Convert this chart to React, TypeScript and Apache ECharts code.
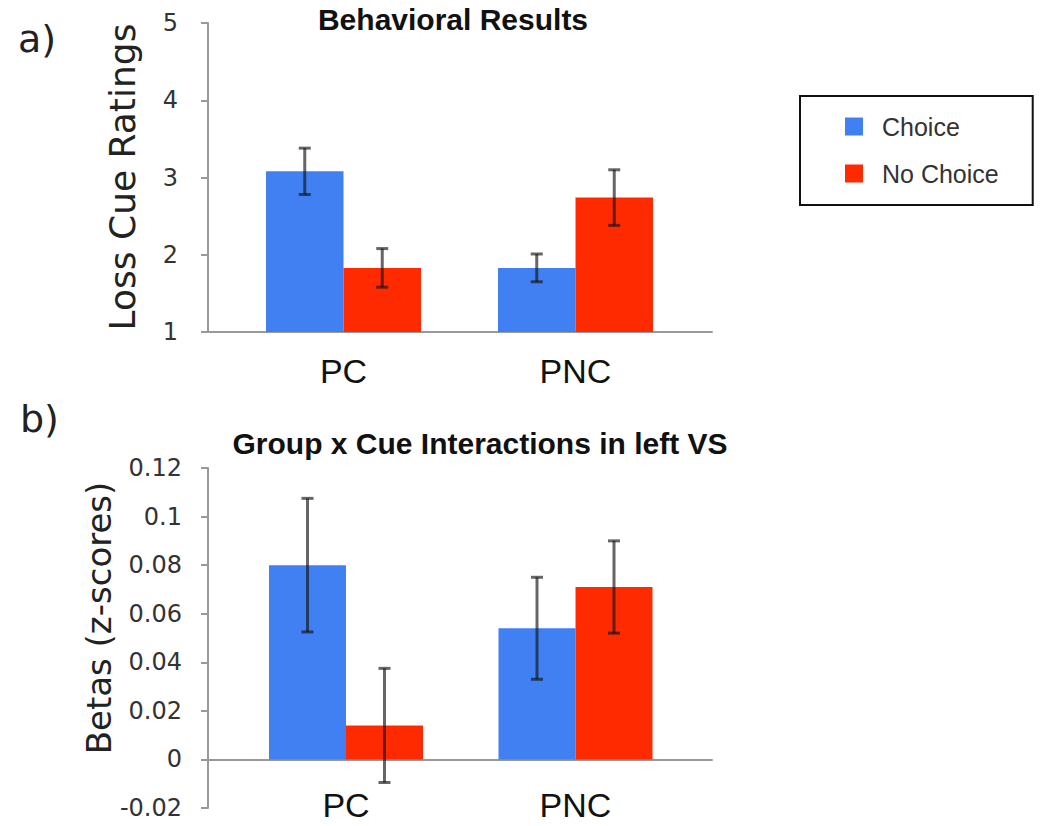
import React, { useEffect, useRef } from "react";
import * as echarts from "echarts";

const categories = ["PC", "PNC"];
const seriesNames = ["Choice", "No Choice"];

// Panel a) Behavioral Results
const ratingChoice = [3.08, 1.83];
const ratingNoChoice = [1.83, 2.74];
const ratingChoiceErr = [0.3, 0.18];
const ratingNoChoiceErr = [0.25, 0.36];
const ratingTicks = { min: 1, max: 5, interval: 1 };

// Panel b) Group x Cue Interactions in left VS
const betaChoice = [0.08, 0.054];
const betaNoChoice = [0.014, 0.071];
const betaChoiceErr = [0.0275, 0.021];
const betaNoChoiceErr = [0.0235, 0.019];
const betaTicks = { min: -0.02, max: 0.12, interval: 0.02 };

const BLUE = "#4180F2";
const RED = "#FF2A00";
const AXIS = "#999999";
const TXT = "#333333";
const GAP_TOP = 0.332;
const GAP_BOT = 0.329;

function errData(vals: number[], errs: number[]) {
  return vals.map((v, i) => [i, v - errs[i], v + errs[i]]);
}

function errSeries(name: string, vals: number[], errs: number[], side: number, gap: number, axisIdx: number) {
  return {
    type: "custom",
    name,
    xAxisIndex: axisIdx,
    yAxisIndex: axisIdx,
    z: 5,
    data: errData(vals, errs),
    encode: { x: 0, y: [1, 2] },
    renderItem: (params: any, api: any) => {
      const cat = api.value(0);
      const lo = api.value(1);
      const hi = api.value(2);
      const band = api.size([1, 0])[0];
      const bw = (band * (1 - gap)) / 2;
      const top = api.coord([cat, hi]);
      const bot = api.coord([cat, lo]);
      const x = top[0] + (side * bw) / 2;
      const cap = 6;
      const style = { stroke: "rgba(20,20,20,0.65)", lineWidth: 3 };
      return {
        type: "group",
        children: [
          { type: "line", shape: { x1: x, y1: top[1], x2: x, y2: bot[1] }, style },
          { type: "line", shape: { x1: x - cap, y1: top[1], x2: x + cap, y2: top[1] }, style },
          { type: "line", shape: { x1: x - cap, y1: bot[1], x2: x + cap, y2: bot[1] }, style },
        ],
      };
    },
  };
}

export default function App() {
  const ref = useRef<HTMLDivElement>(null);
  useEffect(() => {
    document.body.style.margin = "0";
    if (!ref.current) return;
    const chart = echarts.init(ref.current, undefined, { renderer: "svg" });

    const frameX = () => ({
      type: "value",
      min: 0,
      max: 1,
      interval: 1,
      axisLine: { show: true, onZero: true, lineStyle: { color: AXIS, width: 2 } },
      axisTick: { show: false },
      axisLabel: { show: false },
      splitLine: { show: false },
    });

    const option: any = {
      animation: false,
      backgroundColor: "#ffffff",
      title: [
        {
          text: "Behavioral Results",
          left: 453,
          top: 4,
          textAlign: "center",
          padding: 0,
          textStyle: { fontFamily: "Liberation Sans", fontWeight: "bold", fontSize: 30, color: "#111" },
        },
        {
          text: "Group x Cue Interactions in left VS",
          left: 480,
          top: 428,
          textAlign: "center",
          padding: 0,
          textStyle: { fontFamily: "Liberation Sans", fontWeight: "bold", fontSize: 30, color: "#111" },
        },
      ],
      legend: {
        data: seriesNames,
        orient: "vertical",
        left: 800,
        top: 96,
        padding: [18, 34, 19, 45],
        itemGap: 22,
        itemWidth: 18,
        itemHeight: 18,
        icon: "rect",
        borderColor: "#111",
        borderWidth: 2,
        borderRadius: 0,
        textStyle: { fontFamily: "Liberation Sans", fontSize: 25, color: TXT, padding: [0, 0, 0, 14] },
      },
      grid: [
        { left: 208, width: 504, top: 23, height: 309, outerBoundsMode: "none", containLabel: false },
        { left: 227.5, width: 464, top: 23, height: 309, outerBoundsMode: "none", containLabel: false },
        { left: 208, width: 504, top: 468, height: 340, outerBoundsMode: "none", containLabel: false },
        { left: 231.25, width: 459, top: 468, height: 340, outerBoundsMode: "none", containLabel: false },
      ],
      xAxis: [
        { gridIndex: 0, ...frameX() },
        {
          gridIndex: 1,
          type: "category",
          data: categories,
          axisLine: { show: false },
          axisTick: { show: false },
          axisLabel: { fontFamily: "Liberation Sans", fontSize: 34, color: "#111", margin: 22 },
        },
        { gridIndex: 2, ...frameX() },
        {
          gridIndex: 3,
          type: "category",
          data: categories,
          axisLine: { show: true, onZero: true, lineStyle: { color: AXIS, width: 2 } },
          axisTick: { show: false },
          axisLabel: { fontFamily: "Liberation Sans", fontSize: 34, color: "#111", margin: -20 },
        },
      ],
      yAxis: [
        {
          gridIndex: 0,
          type: "value",
          ...ratingTicks,
          axisLine: { show: true, lineStyle: { color: AXIS, width: 2 } },
          axisTick: { show: true, length: 7, lineStyle: { color: AXIS, width: 2 } },
          axisLabel: { fontFamily: "DejaVu Sans", fontSize: 24, color: TXT, margin: 30 },
          splitLine: { show: false },
        },
        { gridIndex: 1, type: "value", ...ratingTicks, show: false, splitLine: { show: false } },
        {
          gridIndex: 2,
          type: "value",
          ...betaTicks,
          axisLine: { show: true, lineStyle: { color: AXIS, width: 2 } },
          axisTick: { show: true, length: 7, lineStyle: { color: AXIS, width: 2 } },
          axisLabel: { fontFamily: "DejaVu Sans", fontSize: 24, color: TXT, margin: 26 },
          splitLine: { show: false },
        },
        { gridIndex: 3, type: "value", ...betaTicks, show: false, splitLine: { show: false } },
      ],
      graphic: [
        {
          type: "text",
          x: 122,
          y: 177,
          rotation: Math.PI / 2,
          style: {
            text: "Loss Cue Ratings",
            font: "36px 'DejaVu Sans'",
            fill: "#222",
            align: "center",
            verticalAlign: "middle",
          },
        },
        {
          type: "text",
          x: 99,
          y: 618,
          rotation: Math.PI / 2,
          style: {
            text: "Betas (z-scores)",
            font: "34px 'DejaVu Sans'",
            fill: "#222",
            align: "center",
            verticalAlign: "middle",
          },
        },
        {
          type: "text",
          x: 18,
          y: 20,
          style: { text: "a)", font: "38px 'DejaVu Sans'", fill: "#222" },
        },
        {
          type: "text",
          x: 20,
          y: 400,
          style: { text: "b)", font: "38px 'DejaVu Sans'", fill: "#222" },
        },
      ],
      series: [
        {
          type: "bar",
          name: "Choice",
          xAxisIndex: 1,
          yAxisIndex: 1,
          data: ratingChoice,
          barGap: "0%",
          barCategoryGap: GAP_TOP * 100 + "%",
          itemStyle: { color: BLUE },
        },
        {
          type: "bar",
          name: "No Choice",
          xAxisIndex: 1,
          yAxisIndex: 1,
          data: ratingNoChoice,
          barGap: "0%",
          barCategoryGap: GAP_TOP * 100 + "%",
          itemStyle: { color: RED },
        },
        errSeries("Choice SE a", ratingChoice, ratingChoiceErr, -1, GAP_TOP, 1),
        errSeries("No Choice SE a", ratingNoChoice, ratingNoChoiceErr, 1, GAP_TOP, 1),
        {
          type: "bar",
          name: "Choice",
          xAxisIndex: 3,
          yAxisIndex: 3,
          data: betaChoice,
          barGap: "0%",
          barCategoryGap: GAP_BOT * 100 + "%",
          itemStyle: { color: BLUE },
        },
        {
          type: "bar",
          name: "No Choice",
          xAxisIndex: 3,
          yAxisIndex: 3,
          data: betaNoChoice,
          barGap: "0%",
          barCategoryGap: GAP_BOT * 100 + "%",
          itemStyle: { color: RED },
        },
        errSeries("Choice SE b", betaChoice, betaChoiceErr, -1, GAP_BOT, 3),
        errSeries("No Choice SE b", betaNoChoice, betaNoChoiceErr, 1, GAP_BOT, 3),
      ],
    };
    chart.setOption(option);
    return () => chart.dispose();
  }, []);
  return <div ref={ref} style={{ width: 1050, height: 826 }} />;
}
